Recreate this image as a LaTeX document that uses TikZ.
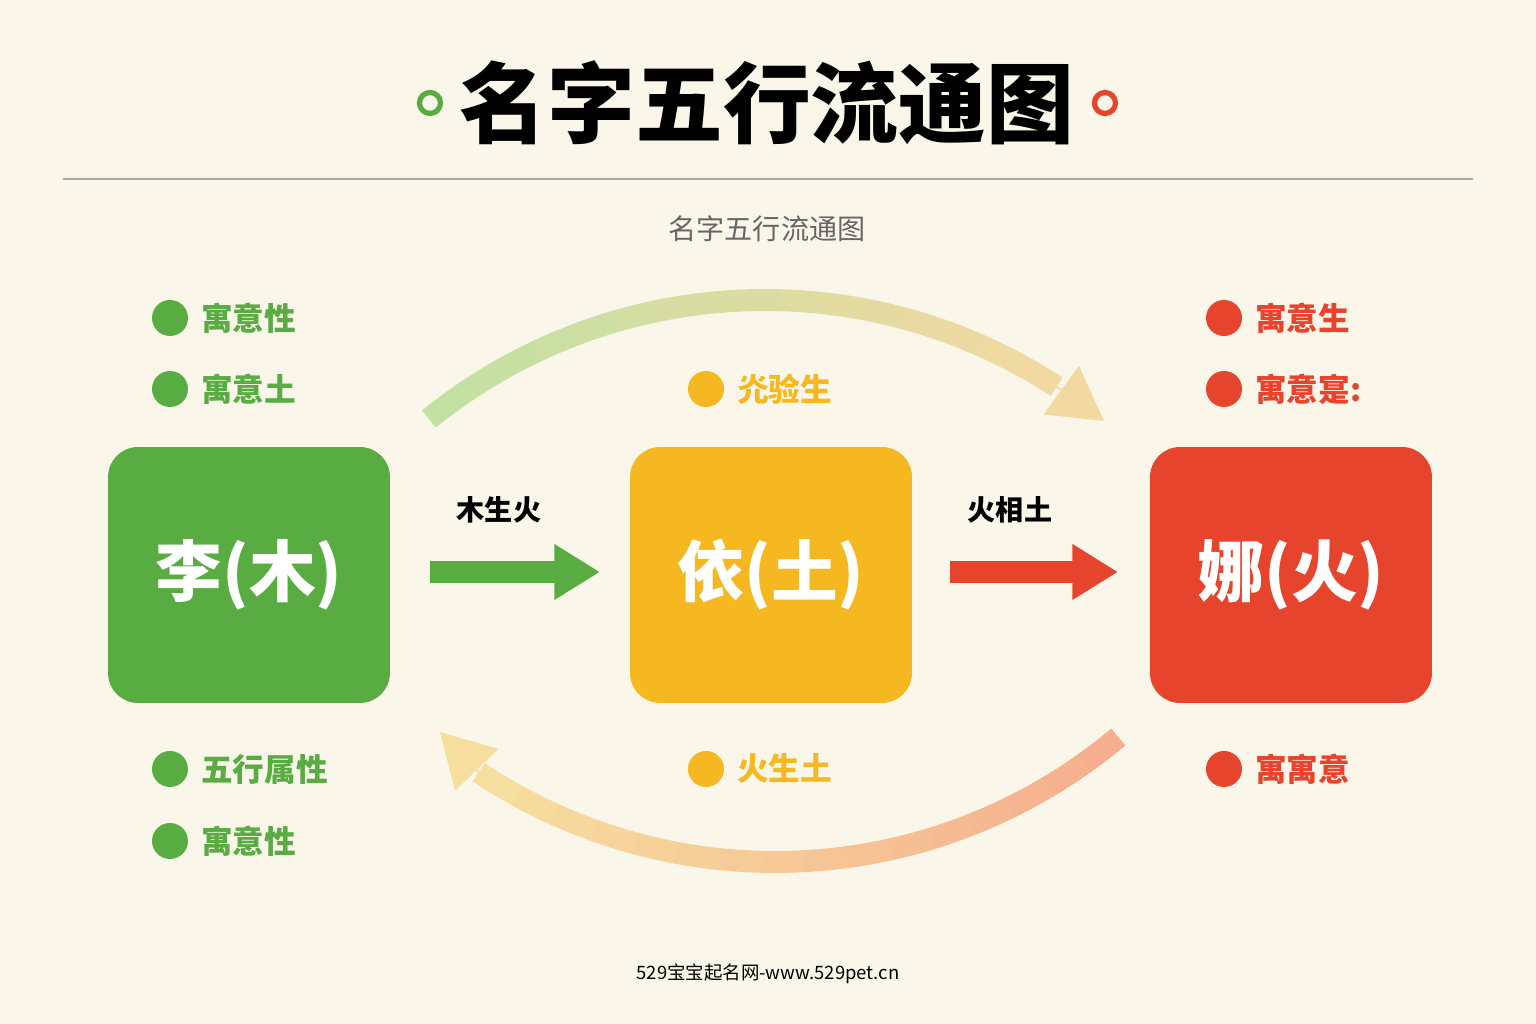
\documentclass[tikz,border=0pt]{standalone}
\usepackage{fontspec}
\setmainfont{Noto Sans CJK SC}
\usetikzlibrary{arrows.meta}
\definecolor{bgCream}{HTML}{FAF7EA}
\definecolor{wuGreen}{HTML}{58AC42}
\definecolor{wuYellow}{HTML}{F5B820}
\definecolor{wuRed}{HTML}{E6442C}
\definecolor{arcGreen}{HTML}{C2E0A2}
\definecolor{arcTan}{HTML}{F2D9A2}
\definecolor{arcSalmon}{HTML}{F6AE8E}
\definecolor{arcPale}{HTML}{F6DE9E}

\begin{document}
\begin{tikzpicture}[x=0.02cm,y=0.02cm,>=Triangle]
  \tikzstyle{elem}=[rounded corners=0.6cm,minimum width=5.64cm,minimum height=5.12cm,
    text=white,font=\fontsize{38}{40}\selectfont\bfseries]
  \tikzstyle{dot}=[circle,minimum size=0.72cm,inner sep=0pt]
  \tikzstyle{item}=[anchor=west,font=\fontsize{18}{20}\selectfont\bfseries]
  \tikzstyle{flow}=[line width=12pt,-{Triangle[width=30pt,length=26pt]}]

  \fill[bgCream] (0,0) rectangle (1536,1024);

  % title
  \node (title) at (767,921) {\fontsize{50}{52}\selectfont\bfseries 名字五行流通图};
  \node[circle,draw=wuGreen,line width=3pt,minimum size=0.42cm] (oL) at (430,921) {};
  \node[circle,draw=wuRed,line width=3pt,minimum size=0.42cm] (oR) at (1105,921) {};
  \draw[black!35,line width=0.8pt] (63,845) -- (1473,845);
  \node[text=black!60,font=\fontsize{16}{18}\selectfont] (sub) at (767,795) {名字五行流通图};

  % elements
  \node[elem,fill=wuGreen]  (li)  at (249,449)  {李(木)};
  \node[elem,fill=wuYellow] (yi)  at (771,449)  {依(土)};
  \node[elem,fill=wuRed]    (na)  at (1291,449) {娜(火)};

  % straight flows
  \coordinate (a1) at (430,452); \coordinate (b1) at (600,452);
  \coordinate (a2) at (950,452); \coordinate (b2) at (1118,452);
  \draw[flow,wuGreen] (a1) -- (b1);
  \draw[flow,wuRed]   (a2) -- (b2);
  \node[font=\fontsize{16}{18}\selectfont\bfseries] (l1) at (499,514) {木生火};
  \node[font=\fontsize{16}{18}\selectfont\bfseries] (l2) at (1010,514) {火相土};

  % arcs
  \foreach \i in {0,...,15}{
    \pgfmathsetmacro{\p}{100-\i*100/15}
    \pgfmathsetmacro{\s}{129-\i*4.5}
    \colorlet{segc}{arcGreen!\p!arcTan}
    \draw[segc,line width=12.5pt] ({765+534*cos(\s)},{190+534*sin(\s)}) arc (\s:\s-4.6:10.68cm);
  }
  \coordinate (t0) at ({765+534*cos(57)},{190+534*sin(57)});
  \coordinate (t1) at (1104,603);
  \draw[arcTan,line width=1pt,-{Triangle[width=34pt,length=30pt]}] (t0) -- (t1);
  \foreach \i in {0,...,15}{
    \pgfmathsetmacro{\p}{100-\i*100/15}
    \pgfmathsetmacro{\s}{-50-\i*4.6}
    \colorlet{segc}{arcSalmon!\p!arcPale}
    \draw[segc,line width=12.5pt] ({775+534*cos(\s)},{696+534*sin(\s)}) arc (\s:\s-4.7:10.68cm);
  }
  \coordinate (u0) at ({775+534*cos(-123.6)},{696+534*sin(-123.6)});
  \coordinate (u1) at (440,292);
  \draw[arcPale,line width=1pt,-{Triangle[width=34pt,length=30pt]}] (u0) -- (u1);

  % notes
  \foreach \y/\t [count=\k] in {706/寓意性,635/寓意土,255/五行属性,183/寓意性}{
    \node[dot,fill=wuGreen] (gd\k) at (170,\y) {};
    \node[item,text=wuGreen] (gt\k) at (195,\y) {\t};
  }
  \foreach \y/\t [count=\k] in {635/灮验生,255/火生土}{
    \node[dot,fill=wuYellow] (yd\k) at (706,\y) {};
    \node[item,text=wuYellow] (yt\k) at (731,\y) {\t};
  }
  \foreach \y/\t [count=\k] in {706/寓意生,635/寓意寔:,255/寓寓意}{
    \node[dot,fill=wuRed] (rd\k) at (1224,\y) {};
    \node[item,text=wuRed] (rt\k) at (1249,\y) {\t};
  }

  \node[font=\fontsize{10.5}{12}\selectfont] (foot) at (768,50) {529宝宝起名网-www.529pet.cn};
\end{tikzpicture}
\end{document}
